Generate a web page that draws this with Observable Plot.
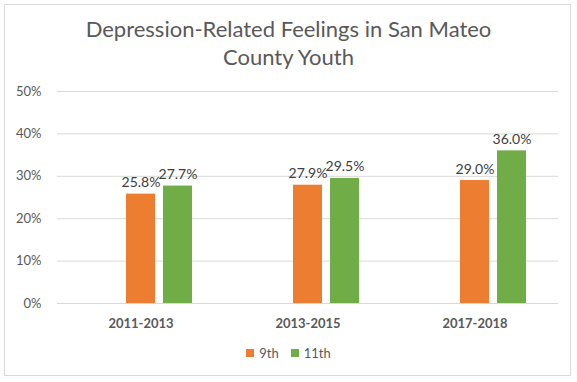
<!DOCTYPE html>
<html>
<head>
<meta charset="utf-8">
<script src="https://cdn.jsdelivr.net/npm/d3@7"></script>
<script src="https://cdn.jsdelivr.net/npm/@observablehq/plot@0.6"></script>
<style>
  html, body { margin: 0; padding: 0; background: #fff; }
  #wrap { position: relative; width: 577px; height: 382px; font-family: Lato, "Open Sans", sans-serif; color: #595959; overflow: hidden; }
  #border { position: absolute; left: 4px; top: 4px; width: 567px; height: 372px; border: 1px solid #d9d9d9; box-sizing: border-box; }
  #title { position: absolute; left: 0; top: 15px; width: 577px; text-align: center; font-size: 22px; line-height: 28px; color: #595959; }
  #chart svg { position: absolute; left: 0; top: 0; }
  #legend { position: absolute; left: 0; top: 345px; width: 577px; display: flex; justify-content: center; gap: 12px; font-size: 13px; color: #595959; }
  .item { display: flex; align-items: center; gap: 5px; }
  .sw { width: 8px; height: 8px; display: inline-block; }
</style>
</head>
<body>
<div id="wrap">
  <div id="border"></div>
  <div id="title">Depression-Related Feelings in San Mateo<br>County Youth</div>
  <div id="chart"></div>
  <div id="legend"></div>
</div>
<script>
const periods = ["2011-2013", "2013-2015", "2017-2018"];
const grades = ["9th", "11th"];
const colors = ["#ED7D31", "#70AD47"];
const values9th = [25.8, 27.9, 29.0];
const values11th = [27.7, 29.5, 36.0];
const yTicks = [0, 10, 20, 30, 40, 50];

const data = [];
periods.forEach((p, i) => {
  data.push({period: p, grade: "9th", value: values9th[i]});
  data.push({period: p, grade: "11th", value: values11th[i]});
});

const chart = Plot.plot({
  width: 577,
  height: 330,
  marginLeft: 57,
  marginRight: 19,
  marginTop: 91,
  marginBottom: 27,
  style: {fontFamily: "Lato, 'Open Sans', sans-serif", color: "#595959", background: "transparent", overflow: "visible"},
  fx: {domain: periods, padding: 0, label: null, axis: null},
  x: {domain: ["", ...grades], paddingInner: 0.21, paddingOuter: 0.86, axis: null},
  y: {domain: [0, 50], label: null},
  color: {domain: grades, range: colors},
  marks: [
    Plot.ruleY(yTicks, {stroke: "#d9d9d9", strokeWidth: 1}),
    Plot.barY(data, {fx: "period", x: "grade", y: "value", fill: "grade"}),
    Plot.text(data, {fx: "period", x: "grade", y: "value", text: d => d.value.toFixed(1) + "%", lineAnchor: "bottom", dy: -7, fontSize: 14, fill: "#404040"}),
    Plot.axisY({ticks: yTicks, tickFormat: d => d + "%", tickSize: 0, tickPadding: 16, fontSize: 13, fill: "#595959"}),
    Plot.axisFx({anchor: "bottom", tickSize: 0, tickPadding: 15, fontSize: 13, fontWeight: "bold", fill: "#595959", label: null})
  ]
});
document.getElementById("chart").appendChild(chart);

const legend = document.getElementById("legend");
grades.forEach((g, i) => {
  const item = document.createElement("div");
  item.className = "item";
  const sw = document.createElement("span");
  sw.className = "sw";
  sw.style.background = colors[i];
  const t = document.createElement("span");
  t.textContent = g;
  item.appendChild(sw);
  item.appendChild(t);
  legend.appendChild(item);
});
</script>
</body>
</html>
